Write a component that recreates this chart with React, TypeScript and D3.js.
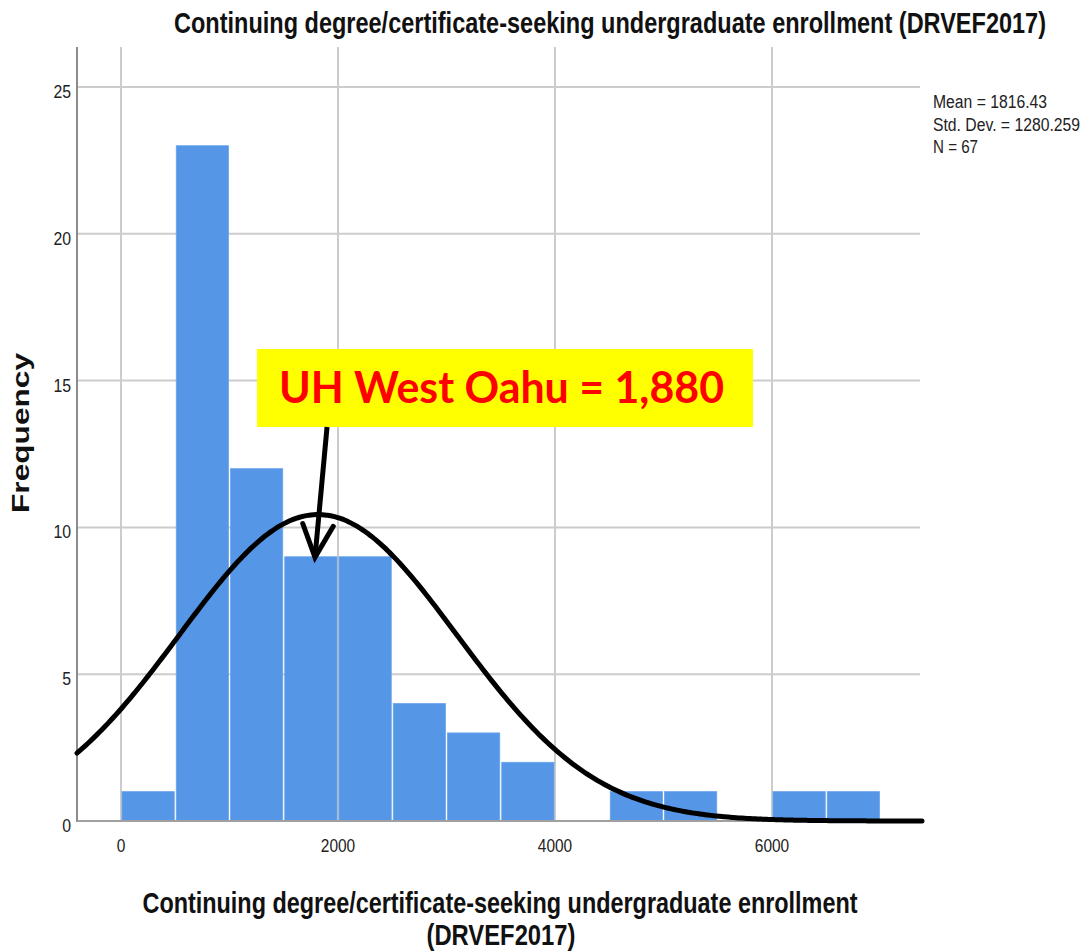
import React from "react";
import * as d3 from "d3";

const binStarts = [0, 500, 1000, 1500, 2000, 2500, 3000, 3500, 4000, 4500, 5000, 5500, 6000, 6500];
const counts = [1, 23, 12, 9, 9, 4, 3, 2, 0, 1, 1, 0, 1, 1];
const binWidth = 500;
const xTicks = [0, 2000, 4000, 6000];
const yTicks = [0, 5, 10, 15, 20, 25];
const mean = 1816.43;
const sd = 1280.259;
const n = 67;
const legendLines = ["Mean = 1816.43", "Std. Dev. = 1280.259", "N = 67"];
const title = "Continuing degree/certificate-seeking undergraduate enrollment (DRVEF2017)";
const xTitle1 = "Continuing degree/certificate-seeking undergraduate enrollment";
const xTitle2 = "(DRVEF2017)";
const yTitle = "Frequency";
const annotation = "UH West Oahu = 1,880";
// annotation arrow, in data units
const arrowTail = { x: 1899, y: 13.42 };
const arrowTip = { x: 1788, y: 8.98 };

const W = 1086;
const H = 951;
const plotLeft = 77;
const plotRight = 920;
const plotTop = 47;
const plotBottom = 821;

export default function App() {
  const x = d3.scaleLinear().domain([0, 6000]).range([121, 772]);
  const y = d3.scaleLinear().domain([0, 25]).range([821, 87]);
  const xMin = x.invert(plotLeft);
  const xMax = x.invert(plotRight + 2);

  const pdf = (v: number) =>
    (n * binWidth) / (sd * Math.sqrt(2 * Math.PI)) * Math.exp(-0.5 * ((v - mean) / sd) ** 2);
  const curvePts: [number, number][] = d3.range(0, 301).map((i) => {
    const v = xMin + ((xMax - xMin) * i) / 300;
    return [v, pdf(v)];
  });
  const line = d3
    .line<[number, number]>()
    .x((d) => x(d[0]))
    .y((d) => y(d[1]))
    .curve(d3.curveBasis);

  const font = "'Liberation Sans', Arial, sans-serif";
  const gridColor = "#cccccc";

  const tx = x(arrowTail.x), ty = y(arrowTail.y);
  const px = x(arrowTip.x), py = y(arrowTip.y);
  const ang = Math.atan2(py - ty, px - tx);
  const headLen = 36;
  const spread = 0.44;
  const h1 = [px - headLen * Math.cos(ang - spread), py - headLen * Math.sin(ang - spread)];
  const h2 = [px - headLen * Math.cos(ang + spread), py - headLen * Math.sin(ang + spread)];

  return (
    <svg width={W} height={H} style={{ position: "absolute", left: 0, top: 0, background: "#fff" }}>
      <rect x={0} y={0} width={W} height={H} fill="#fff" />
      {/* gridlines */}
      {yTicks.filter((t) => t > 0).map((t) => (
        <line key={"gy" + t} x1={plotLeft} x2={plotRight} y1={y(t)} y2={y(t)} stroke={gridColor} strokeWidth={2} />
      ))}
      {xTicks.map((t) => (
        <line key={"gx" + t} x1={x(t)} x2={x(t)} y1={plotTop} y2={plotBottom} stroke={gridColor} strokeWidth={2} />
      ))}
      {/* bars */}
      {binStarts.map((b, i) =>
        counts[i] > 0 ? (
          <rect
            key={"b" + i}
            x={x(b) + 1}
            y={y(counts[i])}
            width={x(b + binWidth) - x(b) - 2}
            height={y(0) - y(counts[i])}
            fill="#5596e6"
            stroke="#6aa4ec"
            strokeWidth={0.8}
          />
        ) : null
      )}
      {/* axes */}
      <line x1={plotLeft} x2={plotLeft} y1={plotTop} y2={plotBottom + 1} stroke="#8c8c8c" strokeWidth={2} />
      <line x1={plotLeft} x2={plotRight} y1={plotBottom} y2={plotBottom} stroke="#a0a0a0" strokeWidth={2} />
      {/* normal curve */}
      <path d={line(curvePts) || ""} fill="none" stroke="#000" strokeWidth={5} strokeLinecap="round" />
      {/* tick labels */}
      {yTicks.map((t) => (
        <text
          key={"ty" + t}
          x={71}
          y={y(t) + 11}
          textAnchor="end"
          fontFamily={font}
          fontSize={18}
          fill="#222"
          textLength={String(t).length * 8.8}
          lengthAdjust="spacingAndGlyphs"
        >
          {t}
        </text>
      ))}
      {xTicks.map((t) => (
        <text
          key={"tx" + t}
          x={x(t)}
          y={852}
          textAnchor="middle"
          fontFamily={font}
          fontSize={19}
          fill="#222"
          textLength={String(t).length * 8.6}
          lengthAdjust="spacingAndGlyphs"
        >
          {t}
        </text>
      ))}
      {/* title */}
      <text
        x={610}
        y={33}
        textAnchor="middle"
        fontFamily={font}
        fontWeight="bold"
        fontSize={30}
        fill="#111"
        textLength={872}
        lengthAdjust="spacingAndGlyphs"
      >
        {title}
      </text>
      {/* x title */}
      <text x={500} y={913} textAnchor="middle" fontFamily={font} fontWeight="bold" fontSize={30} fill="#111"
        textLength={715} lengthAdjust="spacingAndGlyphs">
        {xTitle1}
      </text>
      <text x={501} y={945} textAnchor="middle" fontFamily={font} fontWeight="bold" fontSize={30} fill="#111"
        textLength={149} lengthAdjust="spacingAndGlyphs">
        {xTitle2}
      </text>
      {/* y title */}
      <text
        transform={`translate(29,433) rotate(-90)`}
        textAnchor="middle"
        fontFamily={font}
        fontWeight="bold"
        fontSize={24}
        fill="#111"
        textLength={160}
        lengthAdjust="spacingAndGlyphs"
      >
        {yTitle}
      </text>
      {/* legend */}
      {legendLines.map((l, i) => (
        <text
          key={"l" + i}
          x={933}
          y={108 + i * 22.5}
          fontFamily={font}
          fontSize={18}
          fill="#222"
          textLength={[114, 147, 45][i]}
          lengthAdjust="spacingAndGlyphs"
        >
          {l}
        </text>
      ))}
      {/* annotation box */}
      <rect x={257} y={349} width={496} height={78} fill="#ffff00" />
      <text
        x={279}
        y={403}
        fontFamily="Lato, 'Open Sans', sans-serif"
        fontWeight="bold"
        fontSize={43}
        fill="#ff0000"
        textLength={445}
        lengthAdjust="spacingAndGlyphs"
      >
        {annotation}
      </text>
      {/* arrow */}
      <line x1={tx} y1={ty} x2={px} y2={py} stroke="#000" strokeWidth={5} />
      <polyline
        points={`${h1[0]},${h1[1]} ${px},${py} ${h2[0]},${h2[1]}`}
        fill="none"
        stroke="#000"
        strokeWidth={5}
        strokeLinecap="round"
        strokeLinejoin="miter"
      />
    </svg>
  );
}
